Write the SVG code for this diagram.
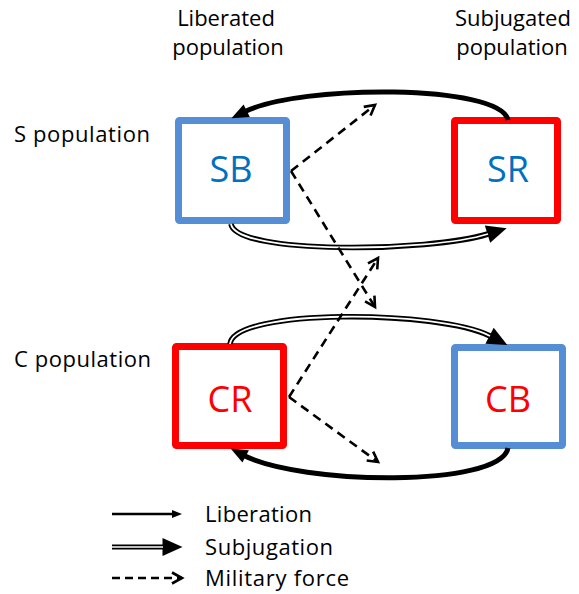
<svg xmlns="http://www.w3.org/2000/svg" width="579" height="594" viewBox="0 0 579 594">
<style>
text{font-family:"Open Sans","Noto Sans","Liberation Sans",sans-serif;}
.lbl{font-size:22px;fill:#000;}
.mid{text-anchor:middle;}
.box{fill:#fff;stroke-width:7;stroke-linejoin:round;}
.blue{stroke:#558ED5;}
.red{stroke:#FF0000;}
.bt{font-size:36px;text-anchor:middle;}
.lib{fill:none;stroke:#000;stroke-width:5;}
.subB{fill:none;stroke:#000;stroke-width:5.5;}
.subW{fill:none;stroke:#fff;stroke-width:1.8;}
.mil{fill:none;stroke:#000;stroke-width:2.6;stroke-dasharray:9 6;}
</style>
<defs>
<marker id="aLib" markerUnits="userSpaceOnUse" markerWidth="20" markerHeight="16" refX="3" refY="7" orient="auto" overflow="visible">
<path d="M0,0 L17,7 L0,14 Z" fill="#000"/>
</marker>
<marker id="aSub" markerUnits="userSpaceOnUse" markerWidth="22" markerHeight="20" refX="0.5" refY="9" orient="auto" overflow="visible">
<path d="M0,0 L20,9 L0,18 Z" fill="#000"/>
</marker>
<marker id="aMil" markerUnits="userSpaceOnUse" markerWidth="12" markerHeight="14" refX="10" refY="5.5" orient="auto" overflow="visible">
<path d="M0,0 L10,5.5 L0,11" fill="none" stroke="#000" stroke-width="2.6"/>
</marker>
<marker id="aLibS" markerUnits="userSpaceOnUse" markerWidth="12" markerHeight="10" refX="1" refY="4" orient="auto" overflow="visible">
<path d="M0,0 L10,4 L0,8 Z" fill="#000"/>
</marker>
</defs>

<g id="headers">
<text class="lbl mid" x="226" y="26">Liberated</text>
<text class="lbl mid" x="228" y="55">population</text>
<text class="lbl mid" x="513" y="26">Subjugated</text>
<text class="lbl mid" x="512" y="55">population</text>
<text class="lbl" x="14" y="142" textLength="136" lengthAdjust="spacing">S population</text>
<text class="lbl" x="14" y="367" textLength="137" lengthAdjust="spacing">C population</text>
</g>

<g id="SB">
<rect class="box blue" x="178.5" y="120.5" width="108" height="100" rx="1"/>
<text class="bt" x="231" y="182" fill="#0070C0">SB</text>
</g>
<g id="SR">
<rect class="box red" x="454.5" y="120.5" width="103" height="100" rx="1"/>
<text class="bt" x="508" y="182" fill="#0070C0">SR</text>
</g>
<g id="CR">
<rect class="box red" x="175.5" y="346.5" width="108" height="99" rx="1"/>
<text class="bt" x="230" y="412" fill="#FF0000">CR</text>
</g>
<g id="CB">
<rect class="box blue" x="454.5" y="347.5" width="108" height="98" rx="1"/>
<text class="bt" x="508" y="412" fill="#FF0000">CB</text>
</g>

<g id="connectors">
<path class="lib" d="M508,120 C500,84 300,84 244,112" marker-end="url(#aLib)"/>
<path class="lib" d="M508,448 C500,488 300,485 243,455" marker-end="url(#aLib)"/>
<path class="subB" d="M231,224 C236,255 430,252 488,234" marker-end="url(#aSub)"/>
<path class="subW" d="M231,224 C236,255 430,252 488,234"/>
<path class="subB" d="M230,344 C234,308 440,310 490,336" marker-end="url(#aSub)"/>
<path class="subW" d="M230,344 C234,308 440,310 490,336"/>
<path class="mil" d="M291,171 L375,105" marker-end="url(#aMil)"/>
<path class="mil" d="M291,171 L375,307" marker-end="url(#aMil)"/>
<path class="mil" d="M289,397 L378,258" marker-end="url(#aMil)"/>
<path class="mil" d="M289,397 L378,462" marker-end="url(#aMil)"/>
</g>

<g id="legend">
<path d="M112,514 L173,514" fill="none" stroke="#000" stroke-width="2.6" marker-end="url(#aLibS)"/>
<path d="M112,547 L163,547" fill="none" stroke="#000" stroke-width="5" marker-end="url(#aSub)"/>
<path d="M112,547 L163,547" fill="none" stroke="#fff" stroke-width="1.5"/>
<path d="M112,578 L182,578" fill="none" stroke="#000" stroke-width="2.6" stroke-dasharray="8 5" marker-end="url(#aMil)"/>
<text class="lbl" x="205" y="522" textLength="107" lengthAdjust="spacing">Liberation</text>
<text class="lbl" x="205" y="555" textLength="128" lengthAdjust="spacing">Subjugation</text>
<text class="lbl" x="205" y="586" textLength="144" lengthAdjust="spacing">Military force</text>
</g>
</svg>
